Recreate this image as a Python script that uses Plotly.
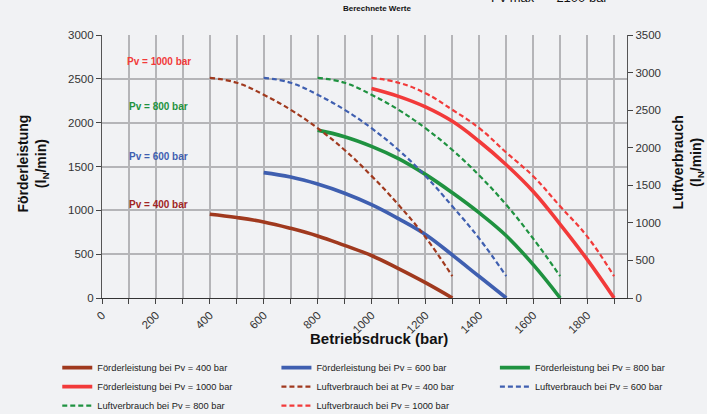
import plotly.graph_objects as go

# Betriebsdruck (bar) for each supply pressure Pv
druck_400 = [400, 500, 600, 700, 800, 900, 1000, 1100, 1200, 1300]
druck_600 = [600, 700, 800, 900, 1000, 1100, 1200, 1300, 1400, 1500]
druck_800 = [800, 900, 1000, 1100, 1200, 1300, 1400, 1500, 1600, 1700]
druck_1000 = [1000, 1100, 1200, 1300, 1400, 1500, 1600, 1700, 1800, 1900]

# Förderleistung (lN/min), left axis
foerder_400 = [955, 918, 868, 795, 708, 600, 485, 335, 175, 0]
foerder_600 = [1430, 1380, 1300, 1195, 1065, 905, 725, 490, 245, 0]
foerder_800 = [1915, 1840, 1730, 1590, 1410, 1200, 970, 710, 380, 0]
foerder_1000 = [2390, 2300, 2180, 2015, 1785, 1520, 1215, 840, 440, 0]

# Luftverbrauch (lN/min), right axis
luft_400 = [2930, 2865, 2705, 2505, 2260, 1970, 1625, 1240, 810, 290]
luft_600 = [2930, 2865, 2705, 2505, 2260, 1970, 1625, 1220, 790, 290]
luft_800 = [2930, 2865, 2705, 2505, 2260, 1970, 1630, 1240, 790, 290]
luft_1000 = [2930, 2865, 2725, 2505, 2260, 1935, 1620, 1220, 820, 290]

labels_pv = ["Pv = 1000 bar", "Pv = 800 bar", "Pv = 600 bar", "Pv = 400 bar"]
label_y = [2700, 2180, 1610, 1065]

BROWN = "#a0391e"
BLUE = "#3f5fb0"
GREEN = "#1f9240"
RED = "#f23a3a"
GRID = "#b5b5b8"
BG = "#f1f2f4"
FONT = "Liberation Sans, Arial, sans-serif"

fig = go.Figure()

# (x, y, colour, name, legend column); legend columns emulate the 3-column grid
solid = [
    (druck_400, foerder_400, BROWN, "Förderleistung bei Pv = 400 bar", "legend"),
    (druck_600, foerder_600, BLUE, "Förderleistung bei Pv = 600 bar", "legend2"),
    (druck_800, foerder_800, GREEN, "Förderleistung bei Pv = 800 bar", "legend3"),
    (druck_1000, foerder_1000, RED, "Förderleistung bei Pv = 1000 bar", "legend"),
]
for x, y, c, name, lg in solid:
    fig.add_trace(go.Scatter(
        x=x, y=y, name=name, mode="lines", legend=lg,
        line=dict(color=c, width=3.6, shape="spline", smoothing=1.2),
    ))

dashed = [
    (druck_400, luft_400, BROWN, "Luftverbrauch bei at Pv = 400 bar", "legend2"),
    (druck_600, luft_600, BLUE, "Luftverbrauch bei Pv = 600 bar", "legend3"),
    (druck_800, luft_800, GREEN, "Luftverbrauch bei Pv = 800 bar", "legend"),
    (druck_1000, luft_1000, RED, "Luftverbrauch bei Pv = 1000 bar", "legend2"),
]
for x, y, c, name, lg in dashed:
    fig.add_trace(go.Scatter(
        x=x, y=y, name=name, mode="lines", yaxis="y2", legend=lg,
        line=dict(color=c, width=2.2, dash="5px,3px", shape="spline", smoothing=1.2),
    ))

# Pv labels inside the plot
for txt, yv, c in zip(labels_pv, label_y, [RED, GREEN, BLUE, "#a02424"]):
    fig.add_annotation(x=210, y=yv, text="<b>%s</b>" % txt, showarrow=False,
                       font=dict(size=10, color=c, family=FONT))

# axis titles as annotations for exact placement
fig.add_annotation(xref="paper", yref="paper", x=0.528, y=-0.155, yanchor="middle",
                   text="<b>Betriebsdruck (bar)</b>", showarrow=False,
                   font=dict(size=15, color="#111", family=FONT))
fig.add_annotation(xref="paper", yref="paper", x=-0.17, y=0.51, textangle=-90,
                   text="<b>Förderleistung<br>(l<sub>N</sub>/min)</b>", showarrow=False,
                   font=dict(size=14, color="#111", family=FONT))
fig.add_annotation(xref="paper", yref="paper", x=1.154, y=0.515, textangle=-90,
                   text="<b>Luftverbrauch<br>(l<sub>N</sub>/min)</b>", showarrow=False,
                   font=dict(size=14, color="#111", family=FONT))

# header texts at the top
fig.add_annotation(xref="paper", yref="paper", x=0.524, y=1.1, yanchor="middle",
                   text="<b>Berechnete Werte</b>", showarrow=False,
                   font=dict(size=8, color="#111", family=FONT))
fig.add_annotation(xref="paper", yref="paper", x=0.853, y=1.108,
                   xanchor="center", yanchor="bottom",
                   text="Pv max  =  2100 bar", showarrow=False,
                   font=dict(size=13, color="#111", family=FONT))

legend_style = dict(
    orientation="v", xref="container", yref="container",
    y=0.147, xanchor="left", yanchor="top",
    font=dict(size=9.3, color="#222", family=FONT),
    bgcolor="rgba(0,0,0,0)", itemwidth=30, tracegroupgap=0,
)

fig.update_layout(
    width=707, height=414,
    paper_bgcolor=BG, plot_bgcolor=BG,
    margin=dict(l=102, r=80, t=35, b=116, autoexpand=False),
    font=dict(family=FONT, size=11.5, color="#333"),
    showlegend=True,
    legend=dict(x=0.081, **legend_style),
    legend2=dict(x=0.391, **legend_style),
    legend3=dict(x=0.700, **legend_style),
    xaxis=dict(
        range=[0, 1948], tickvals=list(range(0, 2000, 200)), tickangle=-45,
        showgrid=True, gridcolor=GRID, gridwidth=1.5,
        minor=dict(dtick=100, showgrid=True, gridcolor=GRID, gridwidth=1.5,
                   ticks="outside", ticklen=5, tickcolor="#444"),
        ticks="outside", ticklen=5, tickcolor="#444",
        showline=True, linecolor="#333", linewidth=1.2,
        zeroline=False, fixedrange=True,
    ),
    yaxis=dict(
        range=[0, 3000], dtick=500, showgrid=True, gridcolor=GRID, gridwidth=1.5,
        ticks="outside", ticklen=5, tickcolor="#444",
        showline=True, linecolor="#555", linewidth=1.2, zeroline=False,
    ),
    yaxis2=dict(
        range=[0, 3500], dtick=500, overlaying="y", side="right", showgrid=False,
        ticks="outside", ticklen=5, tickcolor="#444",
        showline=True, linecolor="#555", linewidth=1.2, zeroline=False,
    ),
)

fig.write_html("out.html", config={"displayModeBar": False},
               post_script="document.body.style.margin='0';")
